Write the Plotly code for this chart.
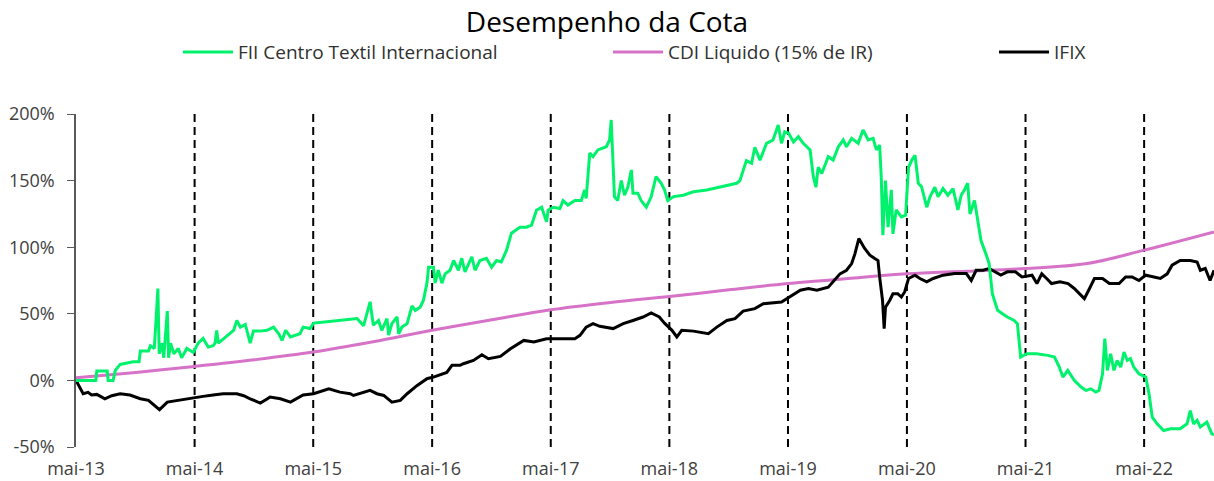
import plotly.graph_objects as go

# ---------------- data ----------------
fii_dates = [
    "2013-05-01", "2013-07-01", "2013-07-04", "2013-08-05", "2013-08-08", "2013-08-23", "2013-08-30",
    "2013-09-14", "2013-10-24", "2013-11-11", "2013-11-15", "2013-12-10", "2013-12-16", "2013-12-28",
    "2014-01-08", "2014-01-12", "2014-01-21", "2014-01-26", "2014-02-06", "2014-02-10", "2014-02-16",
    "2014-02-26", "2014-03-12", "2014-03-22", "2014-04-07", "2014-04-27", "2014-05-12", "2014-05-27",
    "2014-06-12", "2014-06-27", "2014-07-03", "2014-07-08", "2014-07-13", "2014-07-23", "2014-08-18",
    "2014-08-29", "2014-09-08", "2014-09-19", "2014-10-04", "2014-10-19", "2014-10-29", "2014-11-19",
    "2014-12-10", "2014-12-30", "2015-01-15", "2015-01-25", "2015-02-05", "2015-02-20", "2015-03-21",
    "2015-03-31", "2015-04-21", "2015-05-02", "2015-06-12", "2015-07-22", "2015-09-13", "2015-10-03",
    "2015-10-23", "2015-11-02", "2015-11-18", "2015-11-28", "2015-12-14", "2015-12-19", "2015-12-29",
    "2016-01-14", "2016-01-19", "2016-01-29", "2016-02-14", "2016-02-29", "2016-03-10", "2016-03-25",
    "2016-04-04", "2016-04-15", "2016-04-20", "2016-05-05", "2016-05-10", "2016-05-20", "2016-05-31",
    "2016-06-10", "2016-06-25", "2016-07-06", "2016-07-21", "2016-07-31", "2016-08-10", "2016-08-31",
    "2016-09-10", "2016-09-25", "2016-10-15", "2016-10-31", "2016-11-15", "2016-11-30", "2016-12-16",
    "2016-12-31", "2017-01-26", "2017-02-15", "2017-03-03", "2017-03-18", "2017-04-03", "2017-04-18",
    "2017-04-23", "2017-05-09", "2017-05-29", "2017-06-08", "2017-06-23", "2017-07-14", "2017-08-03",
    "2017-08-13", "2017-08-18", "2017-08-29", "2017-09-08", "2017-09-23", "2017-10-19", "2017-10-29",
    "2017-11-03", "2017-11-13", "2017-11-23", "2017-12-04", "2017-12-14", "2017-12-24", "2018-01-04",
    "2018-01-09", "2018-01-24", "2018-02-03", "2018-02-19", "2018-03-06", "2018-03-21", "2018-04-06",
    "2018-04-16", "2018-04-26", "2018-05-14", "2018-06-13", "2018-07-14", "2018-08-24", "2018-10-04",
    "2018-11-24", "2018-12-04", "2018-12-24", "2019-01-09", "2019-01-19", "2019-02-04", "2019-02-24",
    "2019-03-16", "2019-04-01", "2019-04-11", "2019-04-21", "2019-05-03", "2019-05-18", "2019-06-02",
    "2019-06-17", "2019-06-28", "2019-07-08", "2019-07-18", "2019-07-26", "2019-08-02", "2019-08-13",
    "2019-08-23", "2019-09-02", "2019-09-17", "2019-10-03", "2019-10-18", "2019-10-28", "2019-11-13",
    "2019-12-03", "2019-12-18", "2020-01-03", "2020-01-18", "2020-01-28", "2020-02-07", "2020-02-12",
    "2020-02-17", "2020-02-25", "2020-03-04", "2020-03-14", "2020-03-19", "2020-03-29", "2020-04-14",
    "2020-04-27", "2020-05-06", "2020-05-16", "2020-05-26", "2020-06-05", "2020-06-15", "2020-07-01",
    "2020-07-11", "2020-07-26", "2020-08-05", "2020-08-20", "2020-09-04", "2020-09-20", "2020-10-05",
    "2020-10-15", "2020-10-25", "2020-11-04", "2020-11-11", "2020-11-25", "2020-12-05", "2020-12-15",
    "2020-12-30", "2021-01-09", "2021-01-19", "2021-02-04", "2021-02-19", "2021-03-06", "2021-03-27",
    "2021-04-06", "2021-04-16", "2021-05-05", "2021-06-04", "2021-07-09", "2021-07-29", "2021-08-13",
    "2021-08-24", "2021-09-08", "2021-09-28", "2021-10-19", "2021-11-03", "2021-11-18", "2021-12-03",
    "2021-12-13", "2021-12-24", "2021-12-31", "2022-01-08", "2022-01-18", "2022-01-28", "2022-02-07",
    "2022-02-18", "2022-02-28", "2022-03-10", "2022-03-20", "2022-03-30", "2022-04-15", "2022-05-06",
    "2022-05-16", "2022-05-26", "2022-06-10", "2022-06-30", "2022-07-21", "2022-08-20", "2022-09-10",
    "2022-09-20", "2022-09-30", "2022-10-11", "2022-10-21", "2022-11-10", "2022-11-25", "2022-12-02",
]
fii_values = [
    0, 0, 7, 7, 0, 0, 7.5,
    12, 14, 14, 22, 22, 26, 24,
    69, 20, 28, 17, 52, 17, 28,
    20, 24, 17, 24, 21, 28, 31.5,
    25, 26, 28, 37.6, 28, 30, 35,
    37.6, 45, 40, 42, 28, 37, 37,
    37.6, 40, 35, 30, 37.6, 32.6, 35,
    40, 38.9, 43, 44, 45, 46.4, 41,
    59, 41.4, 45, 37.6, 46.4, 34, 42.6,
    47.6, 35, 40, 42.6, 56, 52.6, 55,
    60, 73, 85, 85, 73, 82.7, 73,
    80, 82.7, 90, 82.7, 91.7, 81.5, 92.7,
    82.7, 90, 91.7, 85, 90, 89, 97.8,
    110.5, 115, 115, 116.6, 127.8, 130, 119,
    127.8, 130, 129, 135, 131.6, 135, 135,
    143, 136.6, 170.7, 168, 173, 175.4, 180.5,
    195.5, 138, 135, 150, 139, 145, 158,
    140.5, 140.5, 135, 130, 137.8, 153, 148,
    143, 135, 138, 139, 141.6, 143, 145,
    148, 150, 165, 163, 175, 165.4, 178,
    180.5, 191.7, 178, 186.7, 185.5, 179, 183,
    178, 175.4, 173, 153, 145, 160, 155.4,
    161.7, 168, 165.4, 175.4, 180.5, 175.4, 181.7,
    178, 188, 180.5, 181.7, 173, 176.7, 153,
    109, 150, 115, 143, 110, 128, 122.8,
    124, 160, 165.4, 169, 148, 145.4, 130,
    137.8, 145, 137.8, 144, 139, 144, 128,
    139, 143, 148, 125, 135, 120, 105,
    95, 87.7, 65, 52.6, 50, 47.6, 45,
    42.6, 17.5, 20, 20, 18.8, 17.5, 10,
    2.5, 7.5, 0, -5, -7.5, -6.3, -8.8,
    -7.5, 5, 31.3, 7.5, 20, 7.5, 15,
    10, 21.3, 15, 16.3, 10, 5, 2.5,
    -10, -27.6, -32.6, -37.6, -36.3, -36.3, -32.6,
    -22.6, -32.6, -30, -35, -31.3, -40, -41,
]

ifix_dates = [
    "2013-05-01", "2013-05-13", "2013-05-23", "2013-06-07", "2013-06-18", "2013-07-04", "2013-07-29",
    "2013-08-19", "2013-09-14", "2013-10-14", "2013-11-15", "2013-12-10", "2013-12-31", "2014-01-13",
    "2014-02-06", "2014-03-08", "2014-04-07", "2014-05-03", "2014-05-27", "2014-06-27", "2014-07-28",
    "2014-09-08", "2014-09-29", "2014-10-19", "2014-11-19", "2014-12-10", "2014-12-19", "2015-01-20",
    "2015-02-20", "2015-03-31", "2015-05-02", "2015-06-18", "2015-07-22", "2015-08-23", "2015-09-02",
    "2015-10-23", "2015-11-13", "2015-12-04", "2015-12-29", "2016-01-24", "2016-02-14", "2016-03-16",
    "2016-04-15", "2016-05-05", "2016-05-31", "2016-06-15", "2016-07-01", "2016-07-26", "2016-08-05",
    "2016-09-05", "2016-10-01", "2016-10-21", "2016-11-27", "2016-12-28", "2017-02-07", "2017-03-10",
    "2017-04-18", "2017-05-29", "2017-07-14", "2017-07-30", "2017-08-18", "2017-09-08", "2017-09-29",
    "2017-11-09", "2017-12-10", "2018-01-09", "2018-02-09", "2018-03-06", "2018-03-31", "2018-04-16",
    "2018-05-09", "2018-05-24", "2018-06-08", "2018-07-14", "2018-08-29", "2018-09-24", "2018-10-25",
    "2018-11-19", "2018-12-14", "2019-01-19", "2019-02-14", "2019-04-11", "2019-04-27", "2019-05-18",
    "2019-06-08", "2019-07-03", "2019-07-29", "2019-09-02", "2019-09-17", "2019-10-08", "2019-10-28",
    "2019-11-13", "2019-11-23", "2019-12-05", "2019-12-23", "2020-01-08", "2020-01-23", "2020-02-02",
    "2020-02-07", "2020-02-16", "2020-02-21", "2020-02-25", "2020-03-09", "2020-03-19", "2020-04-03",
    "2020-04-14", "2020-04-24", "2020-05-06", "2020-05-26", "2020-06-10", "2020-07-01", "2020-07-21",
    "2020-08-20", "2020-09-25", "2020-10-31", "2020-11-15", "2020-11-30", "2020-12-21", "2021-01-09",
    "2021-01-29", "2021-02-14", "2021-03-06", "2021-03-31", "2021-04-20", "2021-05-21", "2021-06-05",
    "2021-06-20", "2021-07-05", "2021-07-20", "2021-08-15", "2021-09-09", "2021-09-28", "2021-10-29",
    "2021-11-14", "2021-11-29", "2021-12-24", "2022-01-14", "2022-02-13", "2022-03-05", "2022-03-25",
    "2022-04-15", "2022-05-06", "2022-05-31", "2022-06-20", "2022-07-11", "2022-07-26", "2022-08-20",
    "2022-09-20", "2022-10-11", "2022-10-21", "2022-11-05", "2022-11-20", "2022-12-02",
]
ifix_values = [
    0, -5, -10, -9, -11, -10.5, -13.8,
    -11.5, -10, -11, -13.8, -15, -19, -22,
    -16.3, -15, -13.8, -13, -12, -11, -10,
    -10, -11.5, -13.8, -17, -14, -12.5, -13.8,
    -16.3, -11, -10, -6.3, -8.8, -10, -11.3,
    -7.5, -10, -11.3, -16.3, -15, -10, -3.8,
    1.3, 2.5, 4.5, 6, 11.3, 11.3, 12.5,
    15, 19.3, 16.3, 18, 23.8, 30, 28.8,
    31.3, 31.3, 31.3, 33.8, 40, 42.6, 40.6,
    38.9, 42.6, 45, 47.6, 50.6, 47.6, 43,
    37.6, 32.6, 37.6, 37, 35, 40, 45,
    46.4, 52, 53.9, 57.6, 58.9, 61.4, 65,
    67.7, 69, 67.7, 70, 74, 80, 82.7,
    87.7, 95, 106.5, 99, 94, 91.5, 90,
    77.7, 60, 38.9, 55, 60, 65, 65,
    62.6, 66.4, 76.5, 79, 76.5, 74, 76.5,
    79, 80.2, 80.2, 75, 82.7, 82.7, 84,
    81.5, 79, 81.5, 81.5, 77.7, 79, 72.7,
    80, 76.5, 72.7, 74, 72.7, 69, 61.4,
    69, 76.5, 76.5, 72.7, 72.7, 77.7, 77.7,
    75, 79, 77.7, 76.5, 80, 86.5, 90,
    90, 88.9, 82.7, 84, 75, 82.7,
]

cdi_dates = [
    "2013-05-01", "2013-11-01", "2014-05-01", "2014-11-01", "2015-05-01", "2015-11-01",
    "2016-05-01", "2016-11-01", "2017-05-01", "2017-11-01", "2018-05-01", "2018-11-01",
    "2019-05-01", "2019-11-01", "2020-05-01", "2020-11-01", "2021-05-01", "2021-11-01",
    "2022-05-01", "2022-12-02",
]
cdi_values = [
    2, 6, 10.5, 15.5, 21.3, 29,
    37.6, 45.5, 53, 58.5, 63, 68,
    72.7, 76.5, 80, 82, 84, 87.5,
    97.8, 111.5,
]

x_tick_dates = ["2013-05-01", "2014-05-01", "2015-05-01", "2016-05-01", "2017-05-01",
                "2018-05-01", "2019-05-01", "2020-05-01", "2021-05-01", "2022-05-01"]
x_tick_labels = ["mai-13", "mai-14", "mai-15", "mai-16", "mai-17",
                 "mai-18", "mai-19", "mai-20", "mai-21", "mai-22"]
y_tick_values = [-50, 0, 50, 100, 150, 200]
y_tick_labels = ["-50%", "0%", "50%", "100%", "150%", "200%"]

series_names = ["FII Centro Textil Internacional", "CDI Liquido (15% de IR)", "IFIX"]

# ---------------- figure ----------------
FONT = "Open Sans"
GREEN = "#00F26D"
PINK = "#D673C8"
BLACK = "#000000"

fig = go.Figure()

fig.add_trace(go.Scatter(
    x=cdi_dates, y=cdi_values, mode="lines", name=series_names[1],
    line=dict(color=PINK, width=3, shape="spline", smoothing=1.0),
    legend="legend2", hoverinfo="skip",
))
fig.add_trace(go.Scatter(
    x=ifix_dates, y=ifix_values, mode="lines", name=series_names[2],
    line=dict(color=BLACK, width=3),
    legend="legend3", hoverinfo="skip",
))
fig.add_trace(go.Scatter(
    x=fii_dates, y=fii_values, mode="lines", name=series_names[0],
    line=dict(color=GREEN, width=3),
    legend="legend", hoverinfo="skip",
))

# vertical dashed lines at each May (except the first)
for d in x_tick_dates[1:]:
    fig.add_shape(type="line", xref="x", yref="y", x0=d, x1=d,
                  y0=y_tick_values[0], y1=y_tick_values[-1],
                  line=dict(color="black", width=2, dash="8px,5px"), layer="below")

legend_common = dict(orientation="h", yanchor="middle", y=1.186, xanchor="left",
                     font=dict(family=FONT, size=19, color="#303030"),
                     bgcolor="rgba(0,0,0,0)", itemwidth=50, tracegroupgap=0)

fig.update_layout(
    width=1214, height=481,
    margin=dict(l=76, r=0, t=114, b=34),
    paper_bgcolor="white", plot_bgcolor="white",
    title=dict(text="Desempenho da Cota", x=0.5, xanchor="center", y=0.953, yanchor="middle",
               font=dict(family=FONT, size=28, color="black")),
    showlegend=True,
    legend=dict(legend_common, x=0.0896),
    legend2=dict(legend_common, x=0.4675),
    legend3=dict(legend_common, x=0.8067),
    xaxis=dict(
        type="date", range=["2013-05-01", "2022-12-02"],
        tickvals=x_tick_dates, ticktext=x_tick_labels,
        showgrid=False, zeroline=False, showline=False, ticks="",
        tickfont=dict(family=FONT, size=18, color="#404040"),
        ticklabelstandoff=9,
    ),
    yaxis=dict(
        range=[-50, 200], tickvals=y_tick_values, ticktext=y_tick_labels,
        showgrid=False, zeroline=False, showline=True, linecolor="#595959", linewidth=1.5,
        ticks="outside", ticklen=7, tickcolor="#595959", tickwidth=1.2,
        tickfont=dict(family=FONT, size=18, color="#404040"),
        ticklabelstandoff=9,
    ),
)

fig.write_html(
    "out.html",
    config={"displayModeBar": False},
    post_script="document.body.style.margin='0';document.body.style.padding='0';",
)
